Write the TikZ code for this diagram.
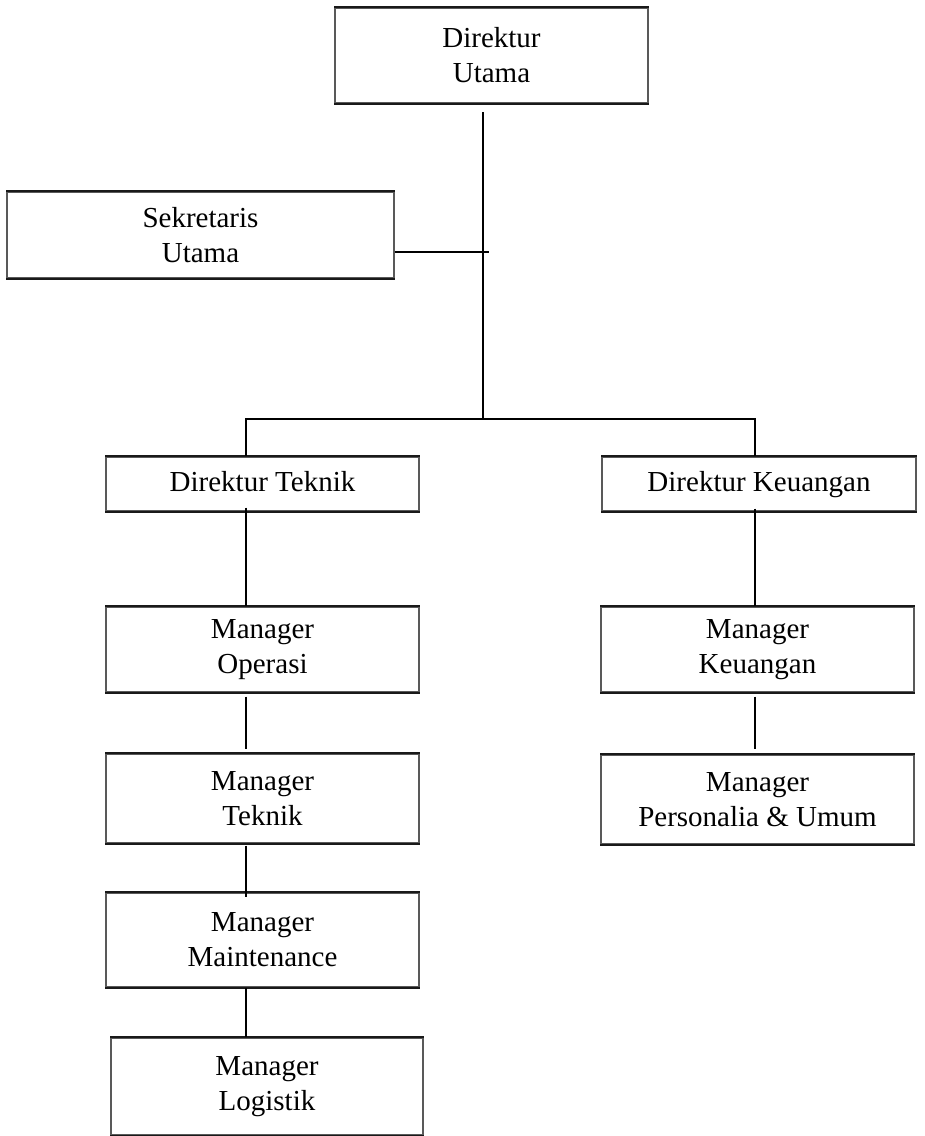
\documentclass[tikz,border=0pt]{standalone}
\usepackage{fontspec}
\setmainfont{Liberation Serif}
\usetikzlibrary{calc}

\tikzset{
  orgbox/.style={draw=black!65, line width=1.2pt, fill=white, inner sep=0pt,
    align=center, font=\fontsize{29}{35}\selectfont},
  link/.style={draw=black, line width=2pt},
  rule/.style={draw=black!90, line width=2pt}
}

\begin{document}
\begin{tikzpicture}[x=1pt, y={(0pt,-1pt)}]
  \useasboundingbox[fill=white] (0,0) rectangle (925,1136);

  % boxes of the organisation chart
  \node[orgbox, minimum width=313pt, minimum height=95pt] (du) at (491.5,55.5) {Direktur\\Utama};
  \node[orgbox, minimum width=387pt, minimum height=86pt] (sk) at (200.5,235) {Sekretaris\\Utama};
  \node[orgbox, minimum width=313pt, minimum height=54pt] (dt) at (262.5,484) {\strut Direktur Teknik};
  \node[orgbox, minimum width=314pt, minimum height=54pt] (dk) at (759,484) {\strut Direktur Keuangan};
  \node[orgbox, minimum width=313pt, minimum height=85pt] (mo) at (262.5,649.5) {Manager\\Operasi};
  \node[orgbox, minimum width=313pt, minimum height=85pt] (mk) at (757.5,649.5) {Manager\\Keuangan};
  \node[orgbox, minimum width=313pt, minimum height=89pt] (mt) at (262.5,798.5) {Manager\\Teknik};
  \node[orgbox, minimum width=313pt, minimum height=89pt] (mp) at (757.5,799.5) {Manager\\Personalia \& Umum};
  \node[orgbox, minimum width=313pt, minimum height=94pt] (mm) at (262.5,940) {Manager\\Maintenance};
  \node[orgbox, minimum width=312pt, minimum height=97pt] (ml) at (267,1086.5) {Manager\\Logistik};

  % heavier top and bottom rules of every box
  \foreach \b in {du,sk,dt,dk,mo,mk,mt,mp,mm,ml}{
    \draw[rule] (\b.north west) -- (\b.north east);
    \draw[rule] (\b.south west) -- (\b.south east);
  }

  % trunk positions
  \coordinate (trunk) at (483,112);
  \coordinate (split) at (483,420);
  \coordinate (left)  at (246,419);
  \coordinate (right) at (755,419);
  \coordinate (sktip) at (489,252);

  % main trunk and secretary branch
  \draw[link] (trunk) -- (split);
  \draw[link] (sk.east |- sktip) -- (sktip);

  % split to the two directors
  \draw[link, line cap=rect] (left) -- (right);
  \draw[link] (left) -- (left |- dt.north);
  \draw[link] (right) -- (right |- dk.north);

  % technical line
  \draw[link] ($(left |- dt.south)+(0,-4)$) -- (left |- mo.north);
  \draw[link] ($(left |- mo.south)+(0,4)$) -- ($(left |- mt.north)+(0,-4)$);
  \draw[link] ($(left |- mt.south)+(0,2)$) -- ($(left |- mm.north)+(0,5)$);
  \draw[link] (left |- mm.south) -- (left |- ml.north);

  % finance line
  \draw[link] ($(right |- dk.south)+(0,-3)$) -- (right |- mk.north);
  \draw[link] ($(right |- mk.south)+(0,4)$) -- ($(right |- mp.north)+(0,-5)$);
\end{tikzpicture}
\end{document}
